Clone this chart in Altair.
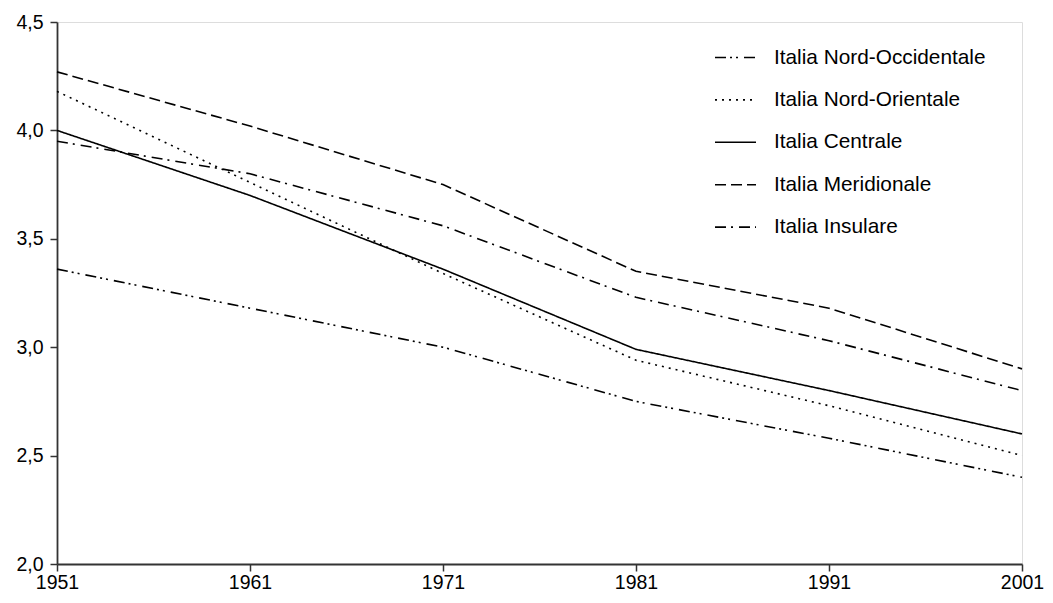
import altair as alt
import pandas as pd

years = [1951, 1961, 1971, 1981, 1991, 2001]
regions = ["Italia Nord-Occidentale", "Italia Nord-Orientale", "Italia Centrale",
           "Italia Meridionale", "Italia Insulare"]
nord_occ = [3.36, 3.18, 3.00, 2.75, 2.58, 2.40]
nord_or = [4.18, 3.76, 3.34, 2.94, 2.73, 2.50]
centrale = [4.00, 3.70, 3.36, 2.99, 2.80, 2.60]
meridionale = [4.27, 4.02, 3.75, 3.35, 3.18, 2.90]
insulare = [3.95, 3.80, 3.56, 3.23, 3.03, 2.80]

series = [nord_occ, nord_or, centrale, meridionale, insulare]
rows = []
for name, vals in zip(regions, series):
    for y, v in zip(years, vals):
        rows.append({"anno": y, "valore": v, "area": name})
df = pd.DataFrame(rows)

dashes = [[11, 4, 2, 4, 2, 6], [2, 5], [1, 0], [11, 5], [11, 5, 2, 6]]
FONT = "Liberation Sans"

chart = alt.Chart(df).mark_line(color="black", strokeWidth=1.6).encode(
    x=alt.X("anno:Q", title=None,
            scale=alt.Scale(domain=[1951, 2001], nice=False, zero=False),
            axis=alt.Axis(values=years, format="d", grid=False, tickSize=7,
                          labelPadding=2, labelFontSize=19.5, labelFont=FONT,
                          labelColor="black", domainColor="#333333", tickColor="#333333",
                          domainWidth=1.8, tickWidth=1.5, labelFlush=False)),
    y=alt.Y("valore:Q", title=None,
            scale=alt.Scale(domain=[2.0, 4.5], nice=False, zero=False),
            axis=alt.Axis(values=[2.0, 2.5, 3.0, 3.5, 4.0, 4.5], grid=False, tickSize=7,
                          labelExpr="replace(format(datum.value, '.1f'), '.', ',')",
                          labelPadding=7, labelFontSize=19.5, labelFont=FONT,
                          labelColor="black", domainColor="#333333", tickColor="#333333",
                          domainWidth=1.8, tickWidth=1.5)),
    strokeDash=alt.StrokeDash("area:N", sort=regions,
                              scale=alt.Scale(domain=regions, range=dashes),
                              legend=alt.Legend(title=None, orient="none",
                                                legendX=657, legendY=14,
                                                symbolType="stroke", symbolSize=1681,
                                                symbolStrokeColor="black",
                                                symbolStrokeWidth=1.6,
                                                labelFontSize=20.8, labelFont=FONT,
                                                labelColor="black", labelOffset=17,
                                                labelLimit=0,
                                                rowPadding=10.4, padding=0)),
    order="anno:Q",
).properties(
    width=965, height=542,
    autosize=alt.AutoSizeParams(type="none"),
    padding={"left": 49, "top": 14, "right": 23, "bottom": 29},
).configure_view(stroke="#a0a0a0", strokeWidth=2).configure(background="white")

chart.save("out.html", embed_options={"renderer": "svg", "actions": False})
